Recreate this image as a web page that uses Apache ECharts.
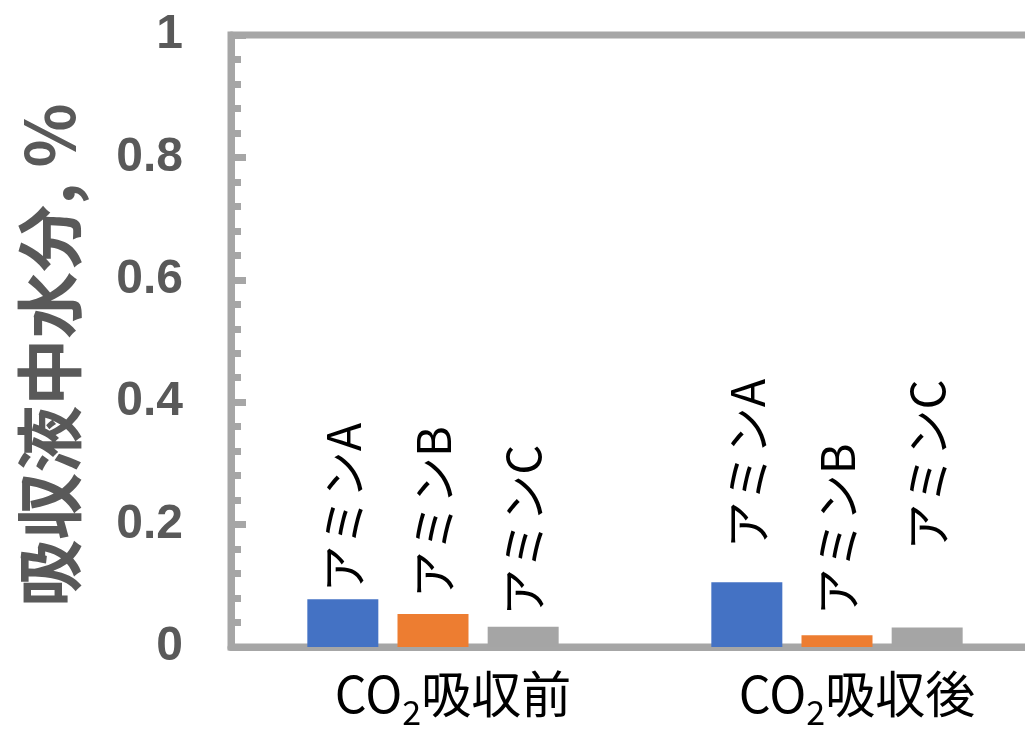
<!DOCTYPE html>
<html>
<head>
<meta charset="utf-8">
<script src="https://cdn.jsdelivr.net/npm/echarts@6/dist/echarts.min.js"></script>
<style>
html,body{margin:0;padding:0;background:#fff;}
#chart{width:1025px;height:735px;}
</style>
</head>
<body>
<div id="chart"></div>
<script>
// ---- data ----
const categories = ['CO₂吸収前', 'CO₂吸収後'];
const seriesNames = ['アミンA', 'アミンB', 'アミンC'];
const aminA = [0.078, 0.106];
const aminB = [0.054, 0.019];
const aminC = [0.033, 0.032];
const yTicks = [0, 0.2, 0.4, 0.6, 0.8, 1];
const yAxisTitle = '吸収液中水分, %';

// ---- styles ----
const colors = ['#4472C4', '#ED7D31', '#A5A5A5'];
const labelGap = [[7, 34], [16, 20], [11, 77]];
const axisGray = '#A6A6A6';
const jp = '"Noto Sans CJK JP", "Noto Sans", sans-serif';

const values = [aminA, aminB, aminC];

const chart = echarts.init(document.getElementById('chart'), null, {renderer: 'canvas'});

const series = seriesNames.map((name, si) => ({
  name: name,
  type: 'bar',
  barWidth: 71,
  barGap: '27%',
  itemStyle: {color: colors[si]},
  data: values[si].map((v, ci) => ({
    value: v,
    label: {distance: labelGap[si][ci]}
  })),
  label: {
    show: true,
    position: 'top',
    rotate: 90,
    align: 'left',
    verticalAlign: 'middle',
    formatter: '{a}',
    color: '#000',
    fontFamily: jp,
    fontSize: 47
  }
}));

chart.setOption({
  animation: false,
  backgroundColor: '#fff',
  grid: {
    left: 231, top: 35, height: 612, width: 808,
    outerBoundsMode: 'none',
    containLabel: false,
    show: true, borderColor: axisGray, borderWidth: 7, backgroundColor: 'transparent'
  },
  xAxis: {
    type: 'category',
    data: categories,
    axisLine: {show: true, lineStyle: {color: axisGray, width: 7}},
    axisTick: {show: false},
    axisLabel: {
      margin: 22,
      padding: [0, 0, 0, 40],
      formatter: (v) => {
        const parts = v.split('₂');
        return '{n|' + parts[0] + '}{s|2}{n|' + parts[1] + '}';
      },
      rich: {
        n: {fontSize: 50, fontFamily: jp, color: '#000', verticalAlign: 'top'},
        s: {fontSize: 34, fontFamily: jp, color: '#000', verticalAlign: 'top', padding: [26, 0, 0, 0]}
      }
    }
  },
  yAxis: {
    type: 'value',
    min: yTicks[0],
    max: yTicks[yTicks.length - 1],
    interval: yTicks[1] - yTicks[0],
    name: yAxisTitle,
    nameLocation: 'middle',
    nameRotate: 90,
    nameGap: 148,
    nameTextStyle: {
      fontFamily: jp, fontSize: 67, fontWeight: 'bold', color: '#595959',
      padding: [0, 28, 0, 0]
    },
    axisLine: {show: true, lineStyle: {color: axisGray, width: 7}},
    axisTick: {show: true, inside: true, length: 15, lineStyle: {color: axisGray, width: 7}},
    minorTick: {show: true, splitNumber: 5, length: 10, lineStyle: {color: axisGray, width: 7}},
    splitLine: {show: false},
    axisLabel: {
      margin: 48,
      fontFamily: '"Liberation Sans", Arial, sans-serif',
      fontWeight: 'bold',
      fontSize: 48,
      color: '#595959',
      formatter: (v) => String(Math.round(v * 10) / 10)
    }
  },
  series: series
});
</script>
</body>
</html>
